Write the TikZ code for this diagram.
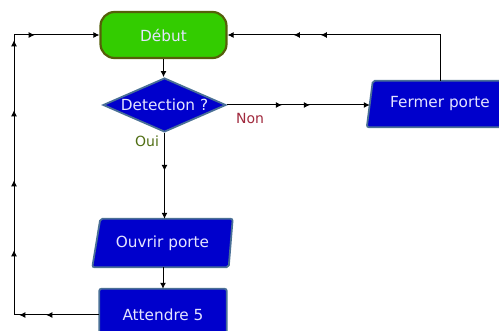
\documentclass[tikz,border=0pt]{standalone}
\usepackage{fontspec}
\setmainfont{DejaVu Sans}
\usetikzlibrary{arrows.meta,shapes.geometric,decorations.markings,backgrounds}
\definecolor{bfill}{RGB}{0,0,204}
\definecolor{bdraw}{RGB}{74,112,150}
\definecolor{gfill}{RGB}{51,204,0}
\definecolor{gdraw}{RGB}{85,95,10}
\definecolor{txt}{RGB}{228,228,255}
\definecolor{nonc}{RGB}{160,40,60}
\definecolor{ouic}{RGB}{80,110,20}
\begin{document}
\begin{tikzpicture}[x=1pt,y=-1pt,font=\fontsize{15.3}{17}\selectfont,
  conn/.style={line width=1pt,draw=black},
  tip/.style={-{Latex[length=6pt,width=6pt]}},
  startbox/.style={rectangle,rounded corners=14pt,fill=gfill,draw=gdraw,line width=2.2pt,
    minimum width=126pt,minimum height=46pt,inner sep=0pt,text=txt},
  decbox/.style={diamond,fill=bfill,draw=bdraw,line width=1.8pt,
    minimum width=123pt,minimum height=54pt,inner sep=0pt,shape aspect=2.3,text=txt},
  procbox/.style={rectangle,inner sep=0pt,text=txt},
  procshape/.style={fill=bfill,draw=bdraw,line width=1.8pt,rounded corners=2pt},
  lbl/.style={font=\fontsize{14}{16}\selectfont}
]
\useasboundingbox (0,0) rectangle (499,331);
\clip (0,0) rectangle (499,331);

\node[startbox] (deb) at (163.5,35) {Début};
\node[decbox] (det) at (164.5,105) {Detection ?};
\node[procbox,minimum width=140pt,minimum height=46pt] (fer) at (440,104) {Fermer porte};
\node[procbox,minimum width=140pt,minimum height=48pt] (ouv) at (162.5,243) {Ouvrir porte};
\node[procbox,minimum width=127pt,minimum height=52pt] (att) at (163,315) {Attendre 5};

\begin{scope}[on background layer]
  \path[procshape] ([xshift=3pt]fer.north west) -- (fer.north east) -- (fer.south east) -- ([xshift=-3pt]fer.south west) -- cycle;
  \path[procshape] (ouv.south west) -- ([xshift=8pt]ouv.north west) -- (ouv.north east) -- ([xshift=-4pt]ouv.south east) -- cycle;
  \path[procshape] (att.south west) rectangle (att.north east);
\end{scope}

\node[lbl,text=nonc] (non) at (250,118) {Non};
\node[lbl,text=ouic] (oui) at (147,141) {Oui};

\coordinate (lb) at (14,315);
\coordinate (lt) at (14,35);

\draw[conn,tip] (deb.south) -- (deb.south |- det.north);
\draw[conn,tip,postaction={decorate},decoration={markings,
   mark=at position 38pt with {\arrow{Latex[length=6pt,width=6pt]}}}]
  (det.south) -- (det.south |- ouv.north);
\draw[conn,tip] (att.north |- ouv.south) -- (att.north);
\draw[conn,tip,postaction={decorate},decoration={markings,
   mark=at position 55pt with {\arrow{Latex[length=6pt,width=6pt]}},
   mark=at position 83pt with {\arrow{Latex[length=6pt,width=6pt]}}}]
  (det.east) -- (det.east -| fer.west);
\draw[conn,tip,postaction={decorate},decoration={markings,
   mark=at position 165pt with {\arrow{Latex[length=6pt,width=6pt]}},
   mark=at position 192pt with {\arrow{Latex[length=6pt,width=6pt]}}}]
  (fer.north) |- (deb.east);
\draw[conn,tip,postaction={decorate},decoration={markings,
   mark=at position 53pt with {\arrow{Latex[length=6pt,width=6pt]}},
   mark=at position 80pt with {\arrow{Latex[length=6pt,width=6pt]}},
   mark=at position 150pt with {\arrow{Latex[length=6pt,width=6pt]}},
   mark=at position 220pt with {\arrow{Latex[length=6pt,width=6pt]}},
   mark=at position 290pt with {\arrow{Latex[length=6pt,width=6pt]}},
   mark=at position 360pt with {\arrow{Latex[length=6pt,width=6pt]}},
   mark=at position 386pt with {\arrow{Latex[length=6pt,width=6pt]}}}]
  (att.west) -- (lb) -- (lt) -- (deb.west);
\end{tikzpicture}
\end{document}
